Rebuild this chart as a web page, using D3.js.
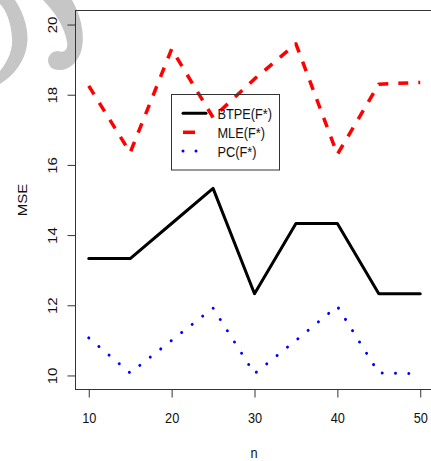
<!DOCTYPE html>
<html>
<head>
<meta charset="utf-8">
<script src="https://cdn.jsdelivr.net/npm/d3@7"></script>
<style>
  html, body { margin: 0; padding: 0; background: #fff; }
  svg { display: block; }
  text { font-family: "Liberation Sans", Arial, Helvetica, sans-serif; fill: #111; }
</style>
</head>
<body>
<svg id="chart" width="431" height="461"></svg>
<script>
// Sample sizes and MSE of the three estimators
const nValues = [10, 15, 20, 25, 30, 35, 40, 45, 50];
const btpeMSE = [13.33, 13.33, 14.33, 15.33, 12.33, 14.33, 14.33, 12.33, 12.33];
const mleMSE  = [18.25, 16.35, 19.3, 17.35, 18.45, 19.45, 16.3, 18.3, 18.35];
const pcMSE   = [11.07, 10.07, 11.0, 11.92, 10.05, 11.0, 11.97, 10.07, 10.05];

const xTickValues = [10, 20, 30, 40, 50];
const yTickValues = [10, 12, 14, 16, 18, 20];
const seriesNames = ["BTPE(F*)", "MLE(F*)", "PC(F*)"];

const svg = d3.select("#chart");
const squeeze = 0.85; // narrow text glyphs

// Plot region: limits padded 4% beyond [10,50] and [10,20]
const x = d3.scaleLinear().domain([8.4, 51.6]).range([75.5, 433.5]);
const y = d3.scaleLinear().domain([9.6, 20.4]).range([389.5, 10.5]);

// Grey decorative swashes in the top-left corner
const deco = svg.append("g").attr("fill", "#c6c6c6");
deco.append("path").attr("d",
  "M0,0 L15,0 C25,15 29,32 27,45 C25,60 15,75 0,84 L0,71 C9,60 13,48 12,38 C11,22 6,10 0,4 Z");
deco.append("path").attr("d",
  "M43,0 L72,0 C80,14 85,32 82,48 C79,62 69,71 58,70 L60,52 C66,52 68,48 67,42 C65,28 55,12 43,0 Z");
deco.append("circle").attr("cx", 57.5).attr("cy", 60.5).attr("r", 9.5);

// Axes
const yAxis = svg.append("g")
  .attr("transform", "translate(75.5,0)")
  .call(d3.axisLeft(y).tickValues(yTickValues).tickSize(8).tickFormat(d3.format("d")));
const xAxis = svg.append("g")
  .attr("transform", "translate(0,389.5)")
  .call(d3.axisBottom(x).tickValues(xTickValues).tickSize(8).tickFormat(d3.format("d")));

[xAxis, yAxis].forEach(g => {
  g.select(".domain").remove();
  g.selectAll(".tick line").attr("stroke", "#333").attr("stroke-width", 1);
  g.selectAll(".tick text")
    .attr("x", null).attr("y", null).attr("dy", null)
    .attr("text-anchor", "middle")
    .style("font-family", "'Liberation Sans', Arial, sans-serif")
    .style("font-size", "15px")
    .attr("fill", "#111");
});
yAxis.selectAll(".tick text")
  .attr("transform", `translate(-18.5,0) scale(${squeeze},1) rotate(-90)`);
xAxis.selectAll(".tick text")
  .attr("transform", `translate(0,33) scale(${squeeze},1)`);

// Frame around the plot region
svg.append("rect")
  .attr("x", x.range()[0]).attr("y", y.range()[1])
  .attr("width", x.range()[1] - x.range()[0])
  .attr("height", y.range()[0] - y.range()[1])
  .attr("fill", "none").attr("stroke", "#333").attr("stroke-width", 1);

// Axis titles
svg.append("text")
  .attr("transform", `translate(254,458) scale(${squeeze},1)`)
  .attr("text-anchor", "middle").style("font-size", "15px").text("n");
svg.append("text")
  .attr("transform", `translate(26.5,200) scale(${squeeze},1) rotate(-90)`)
  .attr("text-anchor", "middle").style("font-size", "15px").text("MSE");

// Series lines
const styles = [
  { color: "#000000", width: 3,   dash: null,        cap: "round", values: btpeMSE },
  { color: "#ff0000", width: 3.5, dash: "10,10",     cap: "butt",  values: mleMSE },
  { color: "#0000ff", width: 3,   dash: "0.01,13.3", cap: "round", values: pcMSE }
];

const line = d3.line().x(d => x(d[0])).y(d => y(d[1]));
styles.forEach(s => {
  svg.append("path")
    .datum(nValues.map((n, i) => [n, s.values[i]]))
    .attr("d", line)
    .attr("fill", "none")
    .attr("stroke", s.color)
    .attr("stroke-width", s.width)
    .attr("stroke-linejoin", "round")
    .attr("stroke-linecap", s.cap)
    .attr("stroke-dasharray", s.dash);
});

// Legend
const legend = svg.append("g");
legend.append("rect")
  .attr("x", 171.5).attr("y", 94.5).attr("width", 108).attr("height", 75.5)
  .attr("fill", "none").attr("stroke", "#333").attr("stroke-width", 1);
const rowY = [113.3, 132.3, 151];
const legendDash = [null, "12,14", "0.01,13"];
seriesNames.forEach((name, i) => {
  const s = styles[i];
  legend.append("line")
    .attr("x1", 183).attr("x2", 206).attr("y1", rowY[i]).attr("y2", rowY[i])
    .attr("stroke", s.color).attr("stroke-width", s.width)
    .attr("stroke-linecap", s.cap)
    .attr("stroke-dasharray", legendDash[i]);
  legend.append("text")
    .attr("transform", `translate(217.5,${rowY[i] + 6}) scale(${squeeze},1)`)
    .style("font-size", "15px").text(name);
});
</script>
</body>
</html>
